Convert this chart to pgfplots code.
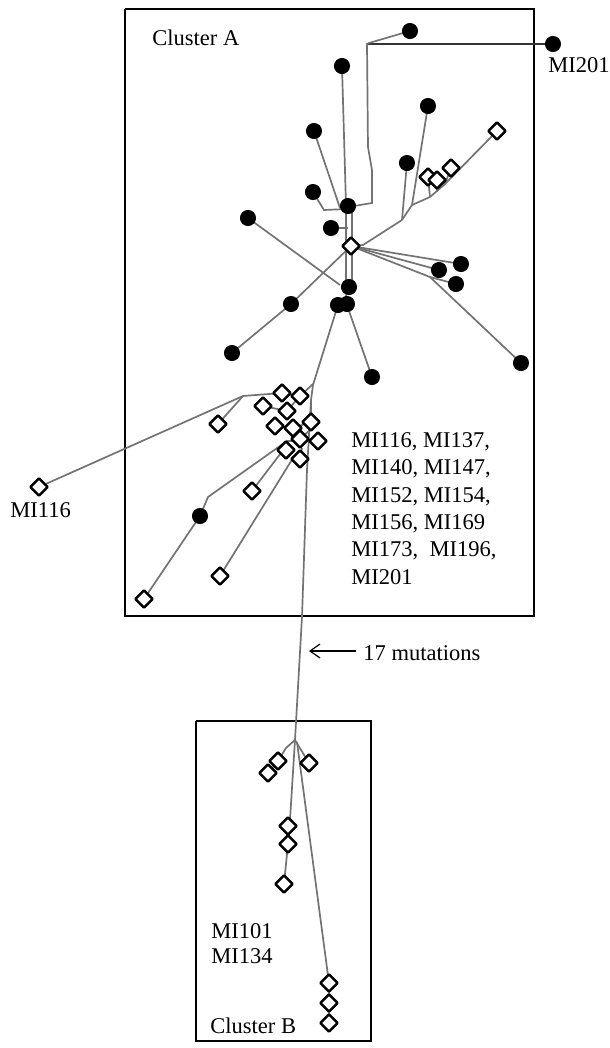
\documentclass[border=0pt]{standalone}
\usepackage{pgfplots}
\pgfplotsset{compat=1.18}
\usepackage{fontspec}
\setmainfont{Liberation Serif}
\usetikzlibrary{arrows.meta}
\pgfdeclareplotmark{dmd}{%
  \pgfpathmoveto{\pgfqpoint{0pt}{\pgfplotmarksize}}%
  \pgfpathlineto{\pgfqpoint{\pgfplotmarksize}{0pt}}%
  \pgfpathlineto{\pgfqpoint{0pt}{-\pgfplotmarksize}}%
  \pgfpathlineto{\pgfqpoint{-\pgfplotmarksize}{0pt}}%
  \pgfpathclose
  \pgfusepathqfillstroke}
\tikzset{
  edge/.style={color=black!55, line width=0.85bp},
  box/.style={color=black, line width=0.9bp},
  txt/.style={anchor=base west, inner sep=0pt, font=\fontsize{11.3}{13.7}\selectfont},
}
\begin{document}
\fontsize{11.3}{13.7}\selectfont
\begin{tikzpicture}
\begin{axis}[
  scale only axis, width=305bp, height=524bp,
  xmin=0, xmax=610, ymin=0, ymax=1048, y dir=reverse,
  hide axis, clip=false,
]
% frame for the bounding box
\addplot[draw=none, mark=none] coordinates {(0,0) (610,1048)};
% boxes
\addplot[box, mark=none] coordinates {(125,9) (534,9) (534,616) (125,616) (125,9)};
\addplot[box, mark=none] coordinates {(196,721) (371,721) (371,1041) (196,1041) (196,721)};
% edges cluster A top
\addplot[color=black!80, line width=0.9bp, mark=none] coordinates {(367,44) (553,44)};
\addplot[edge, mark=none] coordinates {(410,31) (369,43) (367,44) (368,147) (372,170) (372,203) (348,207)};
\addplot[edge, mark=none] coordinates {(342,66) (346,205)};
\addplot[edge, mark=none] coordinates {(314,131) (340,208)};
\addplot[edge, mark=none] coordinates {(313,192) (324,210) (347,209)};
\addplot[edge, mark=none] coordinates {(331,228) (348,228)};
\addplot[edge, mark=none] coordinates {(346,206) (346,287)};
\addplot[edge, mark=none] coordinates {(352,206) (352,287)};
\addplot[edge, mark=none] coordinates {(428,106) (412,205) (402,220)};
\addplot[edge, mark=none] coordinates {(407,163) (402,220)};
\addplot[edge, mark=none] coordinates {(497,131) (445,184) (430,197) (412,205)};
\addplot[edge, mark=none] coordinates {(428,177) (430,197)};
\addplot[edge, mark=none] coordinates {(437,180) (437,192)};
\addplot[edge, mark=none] coordinates {(451,168) (445,184)};
\addplot[edge, mark=none] coordinates {(402,220) (363,245) (351,246)};
\addplot[edge, mark=none] coordinates {(248,218) (340,285)};
\addplot[edge, mark=none] coordinates {(351,246) (439,270)};
\addplot[edge, mark=none] coordinates {(351,246) (461,264)};
\addplot[edge, mark=none] coordinates {(351,246) (430,277) (456,284)};
\addplot[edge, mark=none] coordinates {(430,277) (521,363)};
\addplot[edge, mark=none] coordinates {(232,353) (291,304) (351,246)};
\addplot[edge, mark=none] coordinates {(349,287) (343,305)};
\addplot[edge, mark=none] coordinates {(348,308) (372,377)};
\addplot[edge, mark=none] coordinates {(337,308) (313,385) (311,400) (307,470) (302,617) (295,740)};
% edges cluster A lower
\addplot[edge, mark=none] coordinates {(313,384) (300,396) (282,393) (243,396) (39,487)};
\addplot[edge, mark=none] coordinates {(243,396) (218,424)};
\addplot[edge, mark=none] coordinates {(300,396) (287,411) (263,406)};
\addplot[edge, mark=none] coordinates {(311,400) (311,422) (293,428) (275,426)};
\addplot[edge, mark=none] coordinates {(310,430) (300,439) (318,441)};
\addplot[edge, mark=none] coordinates {(296,441) (287,441) (208,497) (200,516) (144,599)};
\addplot[edge, mark=none] coordinates {(287,445) (252,491)};
\addplot[edge, mark=none] coordinates {(302,448) (300,459) (293,458) (220,576)};
% edges cluster B
\addplot[edge, mark=none] coordinates {(295,740) (286,748) (278,761) (268,773)};
\addplot[edge, mark=none] coordinates {(295,740) (309,763)};
\addplot[edge, mark=none] coordinates {(295,740) (290,820) (288,844) (284,884)};
\addplot[edge, mark=none] coordinates {(297,742) (329,983) (329,1023)};
% filled nodes
\addplot[only marks, mark=*, mark size=3.8bp, mark options={fill=black, draw=black}] coordinates {
(410,31) (553,44) (342,66) (428,106) (314,131) (407,163) (313,192) (348,206)
(248,218) (331,228) (461,264) (439,270) (456,284) (349,287) (338,305) (347,304)
(291,304) (521,363) (232,353) (372,377) (200,516)};
% open diamonds
\addplot[only marks, mark=dmd, mark size=4.3bp, mark options={fill=white, draw=black, line width=1.2bp, line join=round}] coordinates {
(497,131) (428,177) (437,180) (451,168) (351,246)
(282,393) (300,396) (263,406) (287,411) (218,424) (311,422) (275,426) (293,428)
(300,439) (318,441) (286,450) (300,459)
(39,487) (252,491) (220,576) (144,599)
(278,761) (268,773) (309,763) (288,826) (288,844) (284,884)
(329,983) (329,1003) (329,1023)};
% arrow
\addplot[black, mark=none, line width=0.6bp, -{Straight Barb[length=5bp,width=7bp]}] coordinates {(356,651) (309,651)};
% texts
\node[txt] at (axis cs:152,45) {Cluster A};
\node[txt] at (axis cs:548,72) {MI201};
\node[txt] at (axis cs:10,517) {MI116};
\node[txt] at (axis cs:351,447) {MI116, MI137,};
\node[txt] at (axis cs:351,474) {MI140, MI147,};
\node[txt] at (axis cs:351,502) {MI152, MI154,};
\node[txt] at (axis cs:351,529) {MI156, MI169};
\node[txt] at (axis cs:351,556) {MI173,\ \ MI196,};
\node[txt] at (axis cs:351,584) {MI201};
\node[txt] at (axis cs:363,660) {17 mutations};
\node[txt] at (axis cs:211,938) {MI101};
\node[txt] at (axis cs:211,963) {MI134};
\node[txt] at (axis cs:210,1033) {Cluster B};
\end{axis}
\end{tikzpicture}
\end{document}
